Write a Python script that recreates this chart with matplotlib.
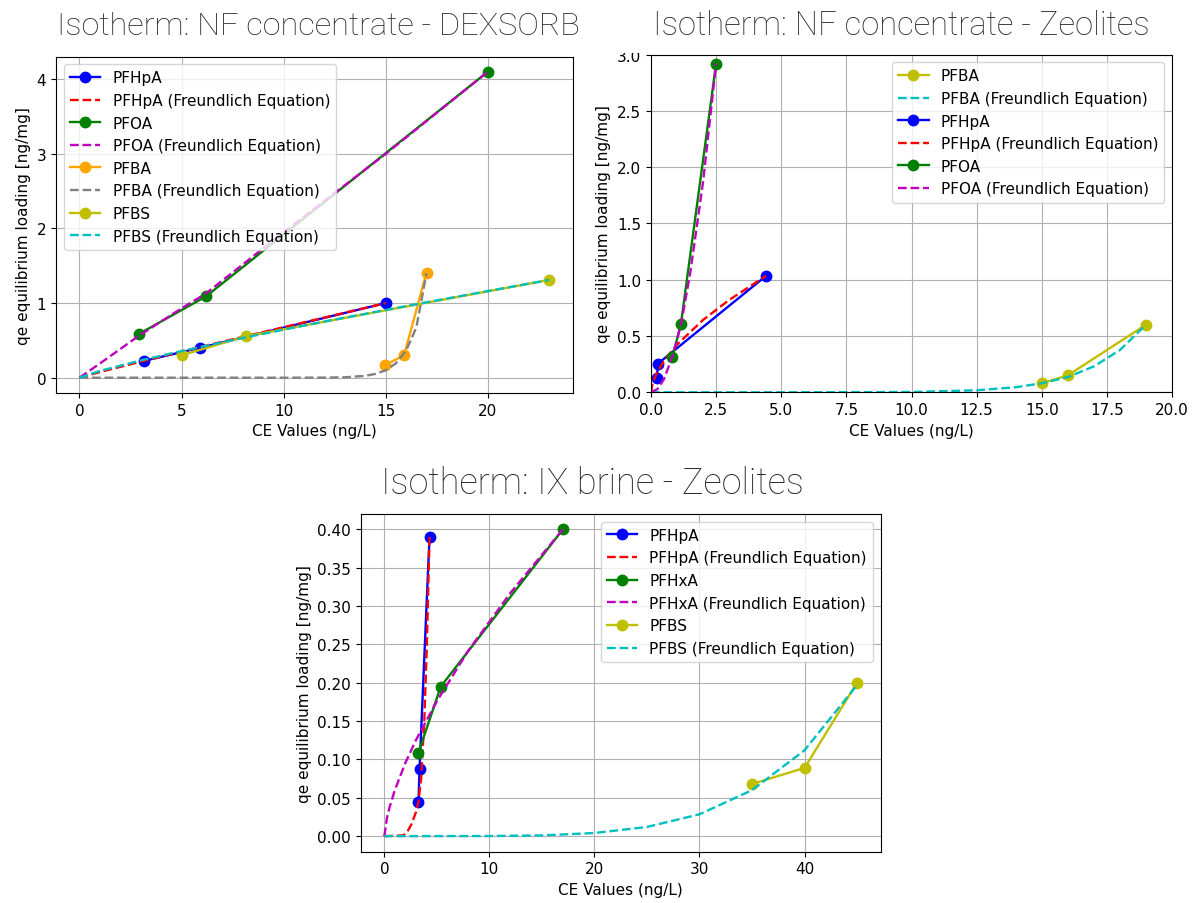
import matplotlib
matplotlib.use("Agg")
import matplotlib.pyplot as plt
from matplotlib.transforms import Bbox

plt.rcParams['font.size'] = 11
plt.rcParams['lines.markersize'] = 7.5
plt.rcParams['lines.linewidth'] = 1.7

# ---------------- Panel 1: NF concentrate - DEXSORB ----------------
p1_pfhpa_x = [3.15, 5.9, 15.0]
p1_pfhpa_y = [0.225, 0.40, 1.00]
p1_pfhpa_fit_x = [0, 1, 3.2, 6, 10, 15]
p1_pfhpa_fit_y = [0, 0.076, 0.229, 0.417, 0.677, 1.0]

p1_pfoa_x = [2.9, 6.2, 20.0]
p1_pfoa_y = [0.585, 1.09, 4.1]
p1_pfoa_fit_x = [0, 1, 2.9, 5, 6.2, 10, 15, 20]
p1_pfoa_fit_y = [0, 0.19, 0.56, 0.93, 1.13, 1.95, 3.0, 4.1]

p1_pfba_x = [14.95, 15.9, 17.0]
p1_pfba_y = [0.166, 0.30, 1.41]
p1_pfba_fit_x = [0, 10, 12, 13, 14, 14.5, 15, 15.5, 16, 16.5, 17.0]
p1_pfba_fit_y = [0, 0.0, 0.0012, 0.0057, 0.025, 0.051, 0.10, 0.193, 0.363, 0.673, 1.40]

p1_pfbs_x = [5.0, 8.15, 23.0]
p1_pfbs_y = [0.30, 0.555, 1.31]
p1_pfbs_fit_x = [0, 1, 3, 5, 8.2, 12, 17, 23]
p1_pfbs_fit_y = [0, 0.091, 0.232, 0.357, 0.544, 0.753, 1.011, 1.31]

# ---------------- Panel 2: NF concentrate - Zeolites ----------------
p2_pfba_x = [15.0, 16.0, 19.0]
p2_pfba_y = [0.08, 0.15, 0.60]
p2_pfba_fit_x = [0, 5, 10, 12.5, 14, 15, 16, 17, 18, 19]
p2_pfba_fit_y = [0, 0.0002, 0.003, 0.018, 0.045, 0.08, 0.135, 0.23, 0.375, 0.60]

p2_pfhpa_x = [0.22, 0.27, 4.42]
p2_pfhpa_y = [0.125, 0.255, 1.035]
p2_pfhpa_fit_x = [0, 0.05, 0.2, 0.5, 1, 2, 3, 4.42]
p2_pfhpa_fit_y = [0, 0.070, 0.162, 0.28, 0.424, 0.643, 0.82, 1.035]

p2_pfoa_x = [0.82, 1.15, 2.5]
p2_pfoa_y = [0.31, 0.61, 2.92]
p2_pfoa_fit_x = [0, 0.25, 0.5, 0.85, 1.15, 1.5, 2.0, 2.5]
p2_pfoa_fit_y = [0, 0.029, 0.117, 0.337, 0.60, 1.05, 1.87, 2.92]

# ---------------- Panel 3: IX brine - Zeolites ----------------
p3_pfhpa_x = [3.25, 3.35, 4.3]
p3_pfhpa_y = [0.044, 0.088, 0.39]
p3_pfhpa_fit_x = [0, 1.8, 2.2, 2.6, 3.0, 3.25, 3.5, 3.8, 4.05, 4.3]
p3_pfhpa_fit_y = [0, 0.001, 0.006, 0.016, 0.031, 0.045, 0.075, 0.15, 0.25, 0.39]

p3_pfhxa_x = [3.25, 5.37, 17.0]
p3_pfhxa_y = [0.109, 0.195, 0.40]
p3_pfhxa_fit_x = [0, 0.25, 0.5, 1, 2, 3, 5, 8, 12, 17]
p3_pfhxa_fit_y = [0, 0.0237, 0.0377, 0.06, 0.0955, 0.125, 0.176, 0.242, 0.317, 0.40]

p3_pfbs_x = [35.0, 40.0, 45.0]
p3_pfbs_y = [0.068, 0.089, 0.20]
p3_pfbs_fit_x = [0, 10, 15, 20, 25, 30, 35, 40, 45]
p3_pfbs_fit_y = [0, 0.0002, 0.001, 0.0041, 0.012, 0.0285, 0.06, 0.112, 0.197]

titles = ["Isotherm: NF concentrate - DEXSORB",
          "Isotherm: NF concentrate - Zeolites",
          "Isotherm: IX brine - Zeolites"]
xlabel = "CE Values (ng/L)"
ylabel = "qe equilibrium loading [ng/mg]"
FE = " (Freundlich Equation)"

W, H = 1195, 904
fig = plt.figure(figsize=(W / 100, H / 100), dpi=100)


def axes_px(left, top, right, bottom):
    return fig.add_axes([left / W, (H - bottom) / H, (right - left) / W, (bottom - top) / H])


def pair(ax, x, y, fx, fy, c1, c2, name):
    ax.plot(x, y, 'o-', color=c1, label=name)
    ax.plot(fx, fy, '--', color=c2, label=name + FE)


# Panel 1
ax1 = axes_px(56, 57.5, 572.5, 394)
pair(ax1, p1_pfhpa_x, p1_pfhpa_y, p1_pfhpa_fit_x, p1_pfhpa_fit_y, 'b', 'r', 'PFHpA')
pair(ax1, p1_pfoa_x, p1_pfoa_y, p1_pfoa_fit_x, p1_pfoa_fit_y, 'g', 'm', 'PFOA')
pair(ax1, p1_pfba_x, p1_pfba_y, p1_pfba_fit_x, p1_pfba_fit_y, 'orange', 'gray', 'PFBA')
pair(ax1, p1_pfbs_x, p1_pfbs_y, p1_pfbs_fit_x, p1_pfbs_fit_y, 'y', 'c', 'PFBS')
ax1.set_xticks([0, 5, 10, 15, 20])
ax1.set_yticks([0, 1, 2, 3, 4])
ax1.legend(loc='upper left')

# Panel 2
ax2 = axes_px(651, 55.5, 1172, 393.3)
pair(ax2, p2_pfba_x, p2_pfba_y, p2_pfba_fit_x, p2_pfba_fit_y, 'y', 'c', 'PFBA')
pair(ax2, p2_pfhpa_x, p2_pfhpa_y, p2_pfhpa_fit_x, p2_pfhpa_fit_y, 'b', 'r', 'PFHpA')
pair(ax2, p2_pfoa_x, p2_pfoa_y, p2_pfoa_fit_x, p2_pfoa_fit_y, 'g', 'm', 'PFOA')
ax2.set_xlim(0, 20)
ax2.set_ylim(0, 3)
ax2.set_xticks([0, 2.5, 5, 7.5, 10, 12.5, 15, 17.5, 20])
ax2.set_yticks([0, 0.5, 1.0, 1.5, 2.0, 2.5, 3.0])
ax2.legend(loc='upper right')

# Panel 3
ax3 = axes_px(360.7, 515, 880.7, 852.5)
pair(ax3, p3_pfhpa_x, p3_pfhpa_y, p3_pfhpa_fit_x, p3_pfhpa_fit_y, 'b', 'r', 'PFHpA')
pair(ax3, p3_pfhxa_x, p3_pfhxa_y, p3_pfhxa_fit_x, p3_pfhxa_fit_y, 'g', 'm', 'PFHxA')
pair(ax3, p3_pfbs_x, p3_pfbs_y, p3_pfbs_fit_x, p3_pfbs_fit_y, 'y', 'c', 'PFBS')
ax3.set_xticks([0, 10, 20, 30, 40])
ax3.set_yticks([0, 0.05, 0.10, 0.15, 0.20, 0.25, 0.30, 0.35, 0.40])
ax3.set_yticklabels(["%.2f" % v for v in ax3.get_yticks()])
ax3.legend(loc='upper right')

for ax in (ax1, ax2, ax3):
    ax.grid(True)
    ax.set_xlabel(xlabel)
    ax.set_ylabel(ylabel)

ax2.set_yticklabels(["%.1f" % v for v in ax2.get_yticks()])
ax2.set_xticklabels(["%.1f" % v for v in ax2.get_xticks()])
# the top tick label of panel 2 is cut by the screenshot edge
clip = Bbox([[0, 0], [W, H - 54]])
for lab in ax2.get_yticklabels():
    lab.set_clip_box(clip)
    lab.set_clip_on(True)

tkw = dict(family='Roboto', weight='light', color='#2a2a2a', ha='center', va='baseline')
fig.text(318 / W, 1 - 35 / H, titles[0], fontsize=23.4, **tkw)
fig.text(901 / W, 1 - 35 / H, titles[1], fontsize=23.6, **tkw)
fig.text(592 / W, 1 - 494 / H, titles[2], fontsize=26, **tkw)

fig.savefig("out.png", dpi=100)
